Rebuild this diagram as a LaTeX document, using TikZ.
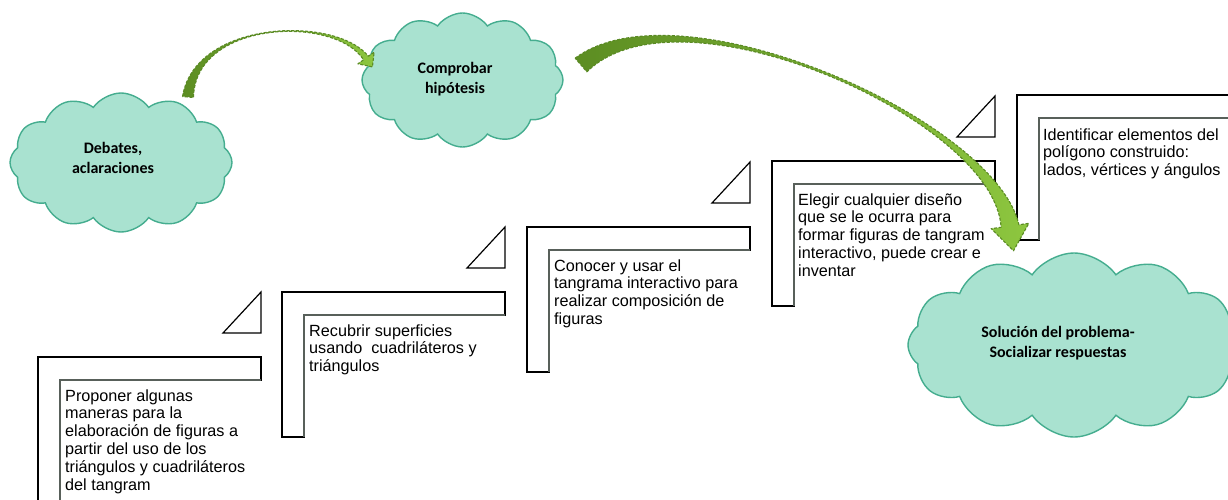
\documentclass[tikz,border=0pt]{standalone}
\usepackage{fontspec}
\setmainfont{Liberation Sans}
\newfontfamily\cloudfont{Carlito}
\usetikzlibrary{shapes.symbols,calc}

\definecolor{cloudfill}{HTML}{A9E2D0}
\definecolor{cloudline}{HTML}{45AD8F}
\definecolor{arrowdark}{HTML}{5C8D22}
\definecolor{arrowlight}{HTML}{8DC63F}
\definecolor{arrowedge}{HTML}{5A8A24}
\definecolor{innerline}{HTML}{58605A}

% stair step: L-shaped frame with its corner triangle, #1,#2 = top-left corner
\newcommand\stairstep[3]{%
  \draw[stepline] (#1,#2+145) -- (#1,#2) -- (#1+223,#2) -- (#1+223,#2+23)
     -- (#1+22,#2+23) -- (#1+22,#2+145) -- cycle;
  \draw[stepinner] (#1+223,#2+23) -- (#1+22,#2+23) -- (#1+22,#2+145);
  \ifx#3y
  \draw[stepline] (#1+185,#2-24) -- (#1+223,#2-65) -- (#1+223,#2-24) -- cycle;
  \fi
}

% tapered curved arrow along the curve (#1) .. (#2) and (#3) .. (#4)
% #5 half width at tail, #6 half width at head base, #7 head half width, #8 head length
\newcommand\greenarrow[8]{%
  \path[arrowbody]
    ($(#1)!#5!90:(#2)$) .. controls (#2) and (#3) .. ($(#4)!#6!-90:(#3)$)
    -- ($(#4)!#7!-90:(#3)$) -- ($(#4)!-#8!(#3)$) -- ($(#4)!#7!90:(#3)$)
    -- ($(#4)!#6!90:(#3)$) .. controls (#3) and (#2) .. ($(#1)!#5!-90:(#2)$)
    -- cycle;
}

\begin{document}
\begin{tikzpicture}[x=1pt,y=-1pt,
  stepline/.style={draw=black,line width=1.2pt,line join=miter},
  stepinner/.style={draw=innerline,line width=1.5pt},
  % anchored at the baseline of the last line
  steptext/.style={inner sep=0pt,anchor=base west,align=left,
    font=\fontsize{16.2}{17.8}\selectfont},
  cloudbox/.style={cloud,cloud puffs=12,cloud puff arc=110,fill=cloudfill,
    draw=cloudline,line width=1.4pt,inner sep=0pt},
  cloudtext/.style={inner sep=0pt,align=center,
    font=\cloudfont\bfseries\fontsize{16}{20.5}\selectfont},
  arrowbody/.style={left color=arrowdark,right color=arrowlight,draw=arrowedge,
    line width=1.1pt,dash pattern=on 3pt off 1.6pt,line join=round}]

\useasboundingbox (0,0) rectangle (1228,499);
\fill[white] (0,0) rectangle (1228,499);
\clip (0,0) rectangle (1228,499);

% stairs
\stairstep{38}{357}{y}
\stairstep{282}{292}{y}
\stairstep{527}{227}{y}
\stairstep{772}{161}{y}
\stairstep{1017}{95}{n}

\node[steptext] (s1) at (65,490) {Proponer algunas\\maneras para la\\elaboración de figuras a\\partir del uso de los\\triángulos y cuadriláteros\\del tangram};
\node[steptext] (s2) at (309,371.6) {Recubrir superficies\\usando~ cuadriláteros y\\triángulos};
\node[steptext] (s3) at (554,324.4) {Conocer y usar el\\tangrama interactivo para\\realizar composición de\\figuras};
\node[steptext] (s4) at (798,276.2) {Elegir cualquier diseño\\que se le ocurra para\\formar figuras de tangram\\interactivo, puede crear e\\inventar};
\node[steptext] (s5) at (1043,175.6) {Identificar elementos del\\polígono construido:\\lados, vértices y ángulos};

% clouds
\node[cloudbox,minimum width=222pt,minimum height=139pt] (c1) at (121,162.5) {};
\node[cloudbox,minimum width=201pt,minimum height=134pt] (c2) at (462.5,80) {};
\node[cloudbox,minimum width=332pt,minimum height=184pt] (c3) at (1074,345) {};

\node[cloudtext] (t1) at (113,158) {Debates,\\aclaraciones};
\node[cloudtext] (t2) at (455,79) {Comprobar\\hipótesis};
\node[cloudtext] (t3) at (1058,343) {Solución del problema-\\Socializar respuestas};

% arrows between clouds
\coordinate (a1s) at (188,97);
\coordinate (a1p) at (195,20);
\coordinate (a1q) at (335,15);
\coordinate (a1e) at (366,58);
\greenarrow{a1s}{a1p}{a1q}{a1e}{5.5pt}{3pt}{10pt}{11pt}

\coordinate (a2s) at (581,65);
\coordinate (a2p) at (680,-20);
\coordinate (a2q) at (995,120);
\coordinate (a2e) at (1010,226);
\greenarrow{a2s}{a2p}{a2q}{a2e}{9pt}{9pt}{19pt}{25pt}

\end{tikzpicture}
\end{document}
